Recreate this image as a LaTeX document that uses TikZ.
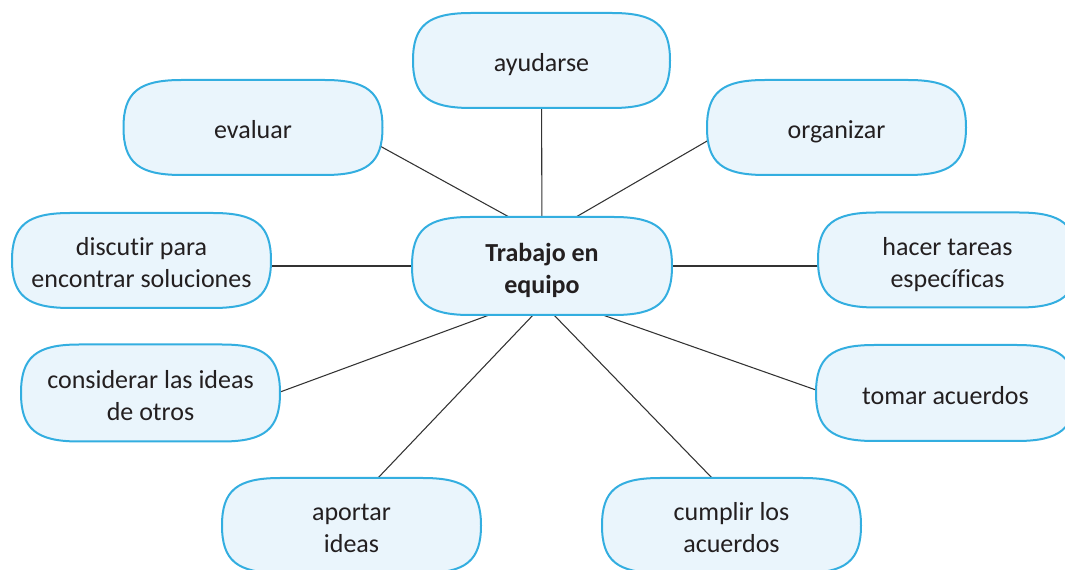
\documentclass[tikz,border=0pt]{standalone}
\usepackage{fontspec}
\setmainfont{Carlito}[Ligatures=CommonOff]
\usetikzlibrary{backgrounds}
\pgfdeclarelayer{shapes}
\pgfsetlayers{background,shapes,main}
\definecolor{boxfill}{HTML}{EAF5FC}
\definecolor{boxline}{HTML}{33AEE0}
\definecolor{txt}{HTML}{231F20}
\definecolor{conn}{HTML}{333333}
\newcommand\btext[1]{\raisebox{-3.6pt}[\height][\depth]{\begin{tabular}{@{}c@{}}#1\end{tabular}}}
% bubble outline around node #1, half width #2, half height #3 (px)
\newcommand\bub[3]{%
 \path[bubstyle] ([shift={(-#2,0)}]#1.center)
   .. controls ([shift={(-#2,-0.74*#3)}]#1.center) and ([shift={(-#2+0.26*58,-#3)}]#1.center) .. ([shift={(-#2+58,-#3)}]#1.center)
   -- ([shift={(#2-58,-#3)}]#1.center)
   .. controls ([shift={(#2-0.26*58,-#3)}]#1.center) and ([shift={(#2,-0.74*#3)}]#1.center) .. ([shift={(#2,0)}]#1.center)
   .. controls ([shift={(#2,0.74*#3)}]#1.center) and ([shift={(#2-0.26*58,#3)}]#1.center) .. ([shift={(#2-58,#3)}]#1.center)
   -- ([shift={(-#2+58,#3)}]#1.center)
   .. controls ([shift={(-#2+0.26*58,#3)}]#1.center) and ([shift={(-#2,0.74*#3)}]#1.center) .. cycle;}
\begin{document}
\begin{tikzpicture}[x=0.75pt,y=-0.75pt,
  bubble/.style={minimum width=194pt, minimum height=71.5pt, inner sep=0pt,
    text=txt, font=\fontsize{19.5}{24}\selectfont},
  bubstyle/.style={draw=boxline, line width=1.5pt, fill=boxfill},
  link/.style={draw=conn, line width=0.8pt}]
\useasboundingbox (0,0) rectangle (1065,570);
\clip (0,0) rectangle (1065,570);
\node[bubble] (ayudarse) at (541.5,60.5) {\btext{ayudarse}};
\node[bubble] (evaluar) at (253,127.5) {\btext{evaluar}};
\node[bubble] (organizar) at (836.5,127.5) {\btext{organizar}};
\node[bubble] (discutir) at (141.5,260.5) {\btext{discutir para\\encontrar soluciones}};
\node[bubble] (central) at (542,266) {\btext{\textbf{Trabajo en}\\\textbf{equipo}}};
\node[bubble] (hacer) at (947.5,260) {\btext{hacer tareas\\específicas}};
\node[bubble] (considerar) at (150.5,393) {\btext{considerar las ideas\\de otros}};
\node[bubble] (tomar) at (945.5,393) {\btext{tomar acuerdos}};
\node[bubble] (aportar) at (351.5,525.5) {\btext{aportar\\ideas}};
\node[bubble] (cumplir) at (731.5,525.5) {\btext{cumplir los\\acuerdos}};
\begin{pgfonlayer}{shapes}
\bub{ayudarse}{128.5}{47.5}
\bub{evaluar}{129.5}{47.5}
\bub{organizar}{129.5}{47.5}
\bub{discutir}{129.5}{47.5}
\bub{central}{130}{49}
\bub{hacer}{129.5}{47.5}
\bub{considerar}{129.5}{48.5}
\bub{tomar}{129.5}{48}
\bub{aportar}{129.5}{47.5}
\bub{cumplir}{129.5}{47.5}
\end{pgfonlayer}
\begin{pgfonlayer}{background}
\draw[link] (ayudarse.center) -- (central.center);
\draw[link] ([shift={(118.2,13.7)}]evaluar.center) -- ([shift={(-24.2,-44.2)}]central.center);
\draw[link] ([shift={(-119.9,8)}]organizar.center) -- ([shift={(25.4,-44)}]central.center);
\draw[link] ([shift={(0,5.5)}]discutir.center) -- (central.center);
\draw[link] (central.center) -- ([shift={(0,6)}]hacer.center);
\draw[link] ([shift={(120.1,2.5)}]considerar.center) -- ([shift={(-40.6,44.5)}]central.center);
\draw[link] ([shift={(-120.1,0.3)}]tomar.center) -- ([shift={(48.6,44.7)}]central.center);
\draw[link] ([shift={(19.6,-40.3)}]aportar.center) -- ([shift={(-1.1,40.8)}]central.center);
\draw[link] ([shift={(-12.5,-40.3)}]cumplir.center) -- ([shift={(4,40.8)}]central.center);
\end{pgfonlayer}
\end{tikzpicture}
\end{document}
